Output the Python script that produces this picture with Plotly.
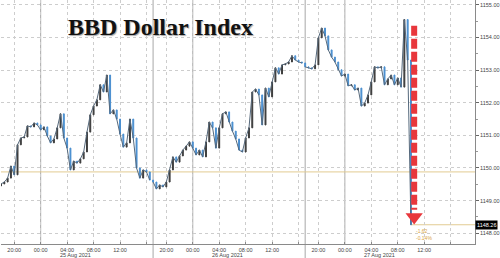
import plotly.graph_objects as go
import pandas as pd

# ---- data (30-minute closes) ----
closes = [
    1149.51, 1149.57, 1149.69, 1150.06, 1149.79, 1150.71, 1150.92, 1150.95, 1151.29, 1151.26,
    1151.38, 1151.32, 1151.17, 1151.26, 1150.98, 1150.77, 1150.89, 1151.23, 1151.66, 1150.92,
    1150.61, 1149.94, 1150.21, 1150.15, 1150.28, 1150.49, 1151.10, 1151.63, 1151.90, 1152.09,
    1152.55, 1152.33, 1152.85, 1151.66, 1151.78, 1151.50, 1151.04, 1150.64, 1150.77, 1151.50,
    1150.92, 1150.00, 1149.69, 1149.94, 1149.88, 1149.63, 1149.57, 1149.36, 1149.48, 1149.42,
    1149.57, 1149.94, 1150.34, 1150.18, 1150.37, 1150.55, 1150.67, 1150.80, 1150.61, 1150.40,
    1150.55, 1150.34, 1150.80, 1151.41, 1151.23, 1150.61, 1151.23, 1151.66, 1151.72, 1151.41,
    1151.13, 1150.89, 1150.55, 1150.49, 1150.92, 1151.23, 1152.33, 1152.42, 1152.24, 1151.32,
    1152.45, 1152.18, 1152.64, 1153.07, 1152.88, 1153.16, 1153.19, 1153.25, 1153.44, 1153.31,
    1153.25, 1153.22, 1153.10, 1153.07, 1153.04, 1153.16, 1153.99, 1154.29, 1154.05, 1153.62,
    1153.40, 1153.25, 1153.01, 1152.82, 1152.88, 1152.52, 1152.55, 1152.39, 1152.45, 1151.90,
    1151.99, 1152.24, 1152.64, 1153.10, 1153.07, 1153.10, 1152.55, 1152.73, 1152.85, 1152.55,
    1152.76, 1152.48, 1154.55, 1153.31, 1148.26,
]
first_open = 1149.45
start_level = 1149.88

tick_times = [
    '2021-08-24 20:00',
    '2021-08-25 00:00', '2021-08-25 04:00', '2021-08-25 08:00', '2021-08-25 12:00', '2021-08-25 16:00',
    '2021-08-25 20:00',
    '2021-08-26 00:00', '2021-08-26 04:00', '2021-08-26 08:00', '2021-08-26 12:00', '2021-08-26 16:00',
    '2021-08-26 20:00',
    '2021-08-27 00:00', '2021-08-27 04:00', '2021-08-27 08:00', '2021-08-27 12:00', '2021-08-27 16:00',
]
tick_labels = ['' if t.endswith('16:00') else t[-5:] for t in tick_times]
day_labels = ['25 Aug 2021', '26 Aug 2021', '27 Aug 2021']
day_label_times = ['2021-08-25 05:15', '2021-08-26 05:15', '2021-08-27 05:15']
midnights = ['2021-08-25 00:00', '2021-08-26 00:00', '2021-08-27 00:00']
session_breaks = ['2021-08-25 18:00', '2021-08-26 18:00']
y_ticks = [1148, 1149, 1150, 1151, 1152, 1153, 1154, 1155]
arrow_time = '2021-08-27 10:29'
x_range = ['2021-08-24 18:00', '2021-08-27 20:41']
y_range = [1147.67, 1155.15]

# ---- derived ----
times = pd.date_range('2021-08-24 18:00', '2021-08-27 10:00', freq='30min')
times = times[times.hour != 17]
opens = [first_open] + closes[:-1]
highs = [max(o, c) for o, c in zip(opens, closes)]
lows = [min(o, c) for o, c in zip(opens, closes)]
last_level = closes[-1]
change = last_level - start_level
pct = change / start_level * 100

# connecting line, broken at the daily session breaks
line_x, line_y = [], []
for i, (t, c) in enumerate(zip(times, closes)):
    if i > 0 and t.hour == 18 and t.minute == 0:
        line_x.append(t)
        line_y.append(None)
    line_x.append(t)
    line_y.append(c)

UP = '#3c3c3c'
DN = '#4a8fd0'
GRID = '#cdcdcd'
TAN = '#e2cb92'
RED = '#e8373c'
FONT = 'Liberation Sans'

fig = go.Figure()
fig.add_trace(go.Scatter(
    x=line_x, y=line_y, mode='lines', line=dict(color='#56697c', width=1),
    showlegend=False, hoverinfo='skip', connectgaps=False,
))
fig.add_trace(go.Candlestick(
    x=times, open=opens, high=highs, low=lows, close=closes,
    increasing=dict(line=dict(color=UP, width=1), fillcolor=UP),
    decreasing=dict(line=dict(color=DN, width=1), fillcolor=DN),
    whiskerwidth=0, showlegend=False, hoverinfo='skip',
))

# arrow head
fig.add_trace(go.Scatter(
    x=[pd.Timestamp(arrow_time)], y=[1148.5], mode='markers',
    marker=dict(symbol='triangle-down', size=15, color=RED, line=dict(width=0)),
    showlegend=False, hoverinfo='skip', cliponaxis=False,
))

shapes = []
for m in midnights:
    shapes.append(dict(type='line', xref='x', yref='paper', x0=m, x1=m, y0=0, y1=1,
                       line=dict(color='#a8a8a8', width=1), layer='below'))
for b in session_breaks:
    shapes.append(dict(type='line', xref='x', yref='paper', x0=b, x1=b, y0=-0.06, y1=1,
                       line=dict(color='#a8a8a8', width=1), layer='below'))
# reference levels
shapes.append(dict(type='line', xref='paper', yref='y', x0=0, x1=1, y0=start_level, y1=start_level,
                   line=dict(color=TAN, width=1), layer='below'))
shapes.append(dict(type='line', xref='x', yref='y', x0=times[-1], x1=x_range[1],
                   y0=last_level, y1=last_level, line=dict(color=TAN, width=1), layer='below'))
# red dashed arrow shaft
shapes.append(dict(type='line', xref='x', yref='y', x0=arrow_time, x1=arrow_time,
                   y0=1154.36, y1=1148.72, line=dict(color=RED, width=6, dash='10px,3px')))

annotations = []
annotations.append(dict(text='<b>BBD Dollar Index</b>', xref='paper', yref='paper', x=0.337, y=0.891,
                        xanchor='center', yanchor='middle', showarrow=False,
                        font=dict(family='Liberation Serif', size=24, color='#111111',
                                  shadow='1px 1px 1px #a8a8a8')))
for t, lab in zip(day_label_times, day_labels):
    annotations.append(dict(text=lab, xref='x', yref='paper', x=t, y=0, yshift=-11,
                            xanchor='center', yanchor='middle', showarrow=False,
                            font=dict(family=FONT, size=5.5, color='#444444')))
annotations.append(dict(text=f'{last_level:.2f}', xref='paper', yref='y', x=1, y=last_level,
                        xanchor='left', yanchor='middle', showarrow=False, bgcolor='#000000',
                        borderpad=1, font=dict(family=FONT, size=5.5, color='#ffffff')))
annotations.append(dict(text=f'{change:.2f}', xref='x', yref='y', x=arrow_time, y=last_level,
                        xanchor='left', yanchor='top', yshift=-1, showarrow=False,
                        font=dict(family=FONT, size=5, color='#d9a441')))
annotations.append(dict(text=f'{pct:.2f}%', xref='x', yref='y', x=arrow_time, y=last_level,
                        xanchor='left', yanchor='top', yshift=-8, showarrow=False,
                        font=dict(family=FONT, size=5, color='#d9a441')))

fig.update_layout(
    width=500, height=258,
    margin=dict(l=1, r=23, t=0, b=14, pad=0),
    paper_bgcolor='white', plot_bgcolor='white',
    shapes=shapes, annotations=annotations,
    showlegend=False,
    boxgap=0.6,
    xaxis=dict(
        type='date', range=x_range,
        rangebreaks=[dict(bounds=[17, 18], pattern='hour')],
        rangeslider=dict(visible=False),
        tickmode='array', tickvals=tick_times, ticktext=tick_labels,
        showgrid=True, gridcolor=GRID, griddash='dot', gridwidth=1,
        showline=True, linecolor='#8a8a8a', linewidth=1,
        ticks='inside', ticklen=2, tickcolor='#8a8a8a',
        tickfont=dict(family=FONT, size=5.5, color='#444444'),
        zeroline=False, fixedrange=True,
    ),
    yaxis=dict(
        side='right', range=y_range,
        tickmode='array', tickvals=y_ticks, ticktext=[f'{v:.2f}' for v in y_ticks],
        showgrid=True, gridcolor=GRID, griddash='dot', gridwidth=1,
        showline=True, linecolor='#8a8a8a', linewidth=1,
        ticks='outside', ticklen=3, tickcolor='#666666',
        minor=dict(dtick=0.5, ticks='outside', ticklen=2, tickcolor='#999999', showgrid=False),
        tickfont=dict(family=FONT, size=5.5, color='#444444'),
        zeroline=False, fixedrange=True,
    ),
)

fig.write_html('out.html')
